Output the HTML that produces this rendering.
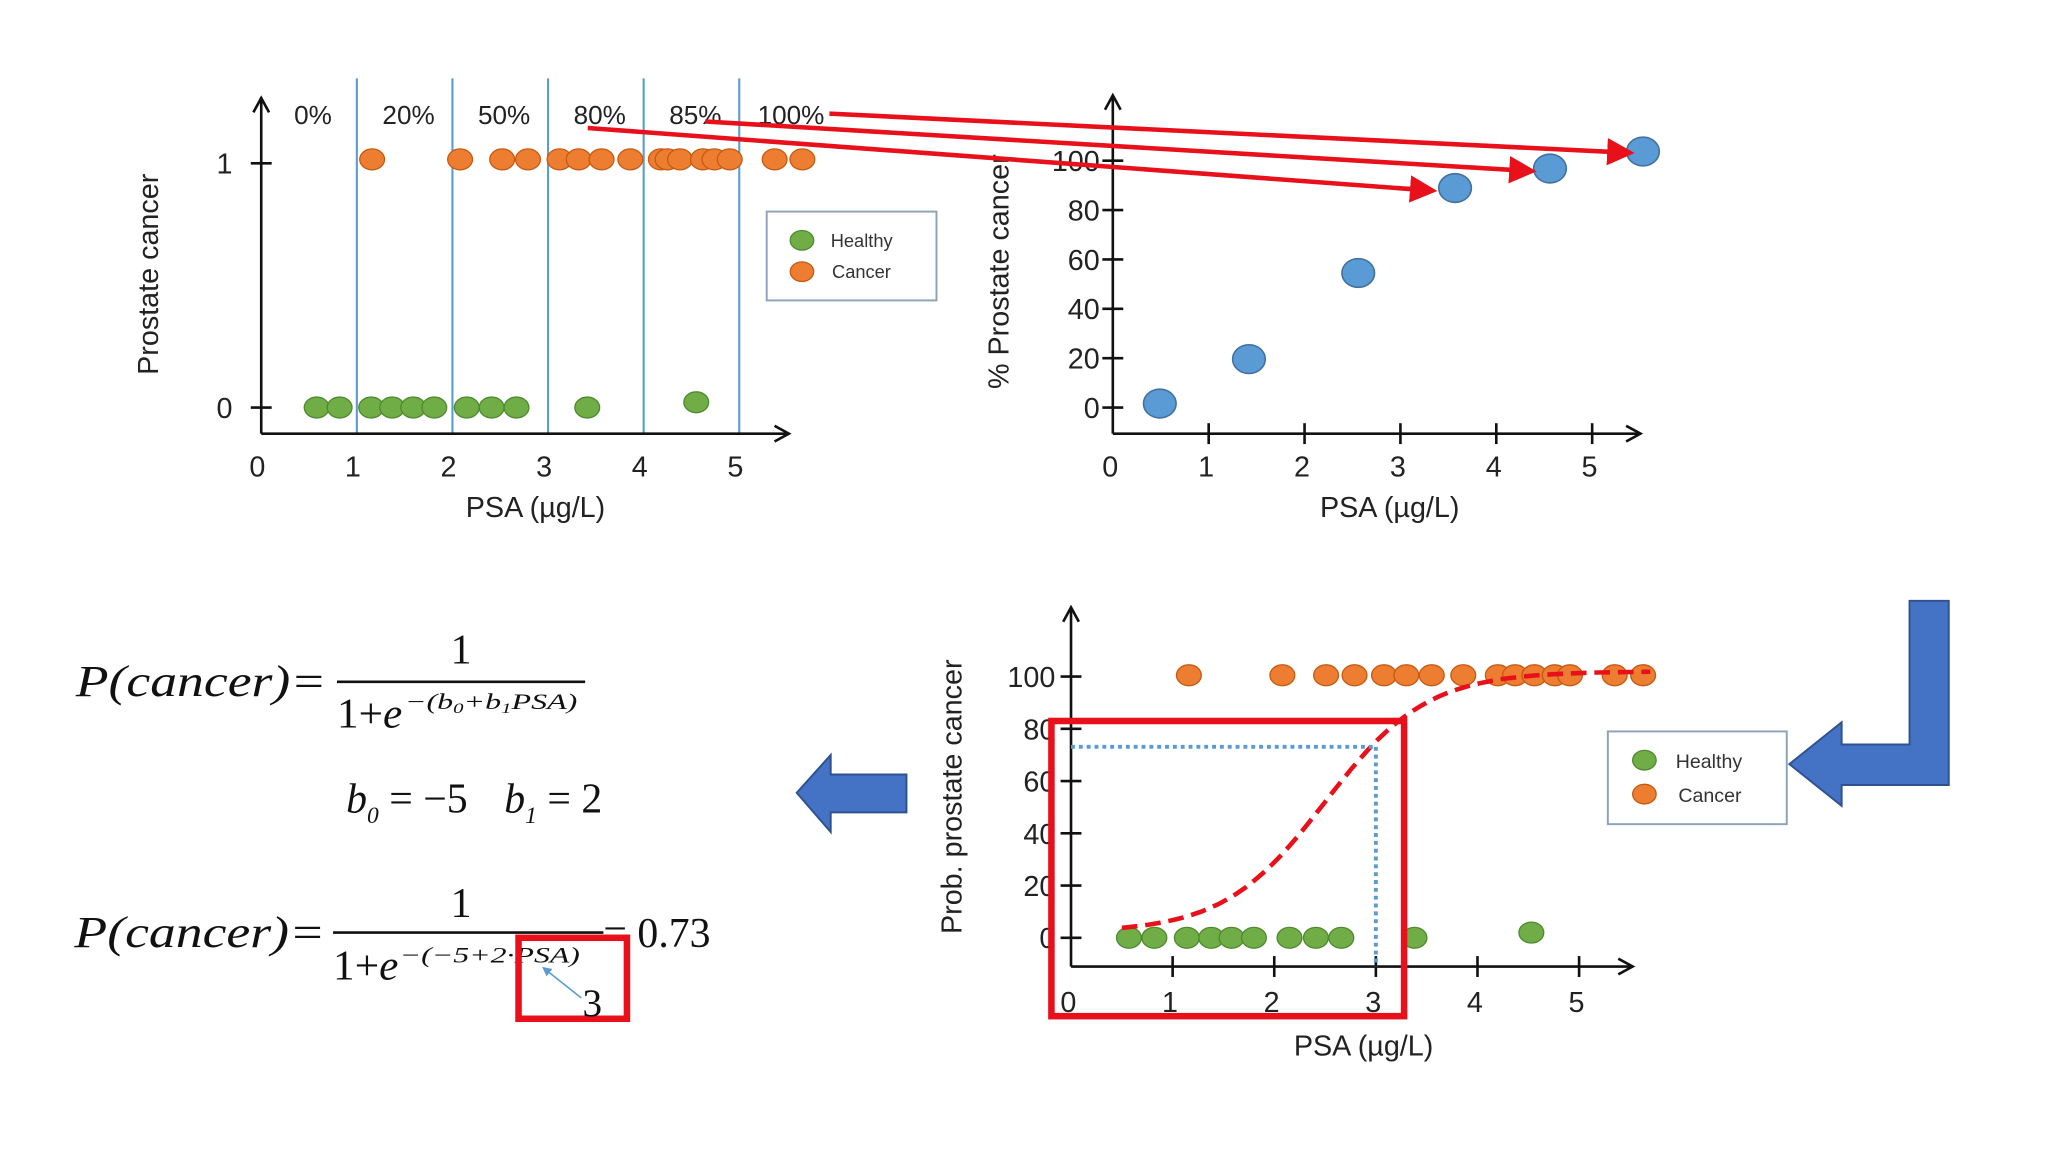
<!DOCTYPE html>
<html><head><meta charset="utf-8">
<style>
html,body{margin:0;padding:0;background:#fff;}
svg{display:block;font-family:"Liberation Sans",sans-serif;}
.serif{font-family:"Liberation Serif",serif;}
</style></head>
<body>
<svg id="root" width="2048" height="1152" viewBox="0 0 1568 882" xmlns="http://www.w3.org/2000/svg">
<defs>
<marker id="redHead" markerWidth="6" markerHeight="6" refX="5" refY="3" orient="auto" markerUnits="strokeWidth"><path d="M0,0 L6,3 L0,6 z" fill="#e8101a"/></marker>
<marker id="blkHead" markerWidth="14" markerHeight="14" refX="12" refY="7" orient="auto" markerUnits="userSpaceOnUse"><path d="M1,1 L12,7 L1,13" fill="none" stroke="#111" stroke-width="2"/></marker>
<marker id="smallBlue" markerWidth="6" markerHeight="6" refX="5" refY="3" orient="auto"><path d="M0,0 L6,3 L0,6 z" fill="#5b9bd5"/></marker>
</defs>
<g id="chart1"></g>
<g id="chart2"></g>
<g id="chart3"></g>
<g id="arrows"></g>
<g id="formulas" class="serif" fill="#111">
  <text x="58" y="533" font-size="34" font-style="italic" textLength="192" lengthAdjust="spacingAndGlyphs">P(cancer)=</text>
  <line x1="258" y1="522" x2="448" y2="522" stroke="#111" stroke-width="2"/>
  <text x="345" y="508" font-size="32">1</text>
  <text x="258" y="557" font-size="32" textLength="50" lengthAdjust="spacingAndGlyphs">1+<tspan font-style="italic">e</tspan></text>
  <text x="310" y="543" font-size="17" font-style="italic" textLength="132" lengthAdjust="spacingAndGlyphs">−(b<tspan font-size="11" dy="3">0</tspan><tspan dy="-3">+b</tspan><tspan font-size="11" dy="3">1</tspan><tspan dy="-3">PSA)</tspan></text>
  <text x="265" y="622" font-size="32" font-style="italic">b<tspan font-size="18" dy="8">0</tspan><tspan dy="-8" font-style="normal"> = −5 </tspan><tspan dx="20">b</tspan><tspan font-size="18" dy="8">1</tspan><tspan dy="-8" font-style="normal"> = 2</tspan></text>
  <text x="57" y="725" font-size="34" font-style="italic" textLength="192" lengthAdjust="spacingAndGlyphs">P(cancer)=</text>
  <line x1="255" y1="714" x2="462" y2="714" stroke="#111" stroke-width="2"/>
  <text x="345" y="702" font-size="32">1</text>
  <text x="255" y="750" font-size="32" textLength="50" lengthAdjust="spacingAndGlyphs">1+<tspan font-style="italic">e</tspan></text>
  <text x="306" y="737" font-size="17" font-style="italic" textLength="138" lengthAdjust="spacingAndGlyphs">−(−5+2·PSA)</text>
  <text x="462" y="725" font-size="32">= 0.73</text>
  <rect x="397" y="718" width="83" height="62" fill="none" stroke="#e8101a" stroke-width="5"/>
  <text x="446" y="778" font-size="30">3</text>
  <line x1="445" y1="764" x2="416" y2="741" stroke="#5b9bd5" stroke-width="1.2" marker-end="url(#smallBlue)"/>
</g>
</svg>
<script>
// ---- data ----
const healthyPSA = [0.58,0.82,1.15,1.37,1.59,1.81,2.15,2.41,2.67,3.41,4.55];
const cancerPSA = [1.16,2.08,2.52,2.79,3.12,3.32,3.56,3.86,4.18,4.25,4.38,4.62,4.74,4.90,5.37,5.66];
const binBounds = [1,2,3,4,5];
const binLabels = ["0%","20%","50%","80%","85%","100%"];
const binCenters = [0.5,1.5,2.5,3.5,4.5,5.5];
const xTicks = [0,1,2,3,4,5];
const pctPSA = [0.49,1.42,2.56,3.57,4.56,5.53];
const pctValues = [1.6,19.6,54.5,88.9,96.8,103.7];
const pctTicks = [0,20,40,60,80,100];
const cancer3PSA = [1.16,2.08,2.51,2.79,3.08,3.30,3.55,3.86,4.20,4.37,4.56,4.76,4.91,5.35,5.63];
const healthy3PSA = [0.57,0.82,1.14,1.38,1.58,1.80,2.15,2.41,2.66,3.38,4.53];
const coefB0 = [-5];
const coefB1 = [2];
const curveRange = [0.5,5.7];
const markerPSA = [3];

const NS="http://www.w3.org/2000/svg";
function mk(parent,tag,attrs,txt){const e=document.createElementNS(NS,tag);for(const k in attrs)e.setAttribute(k,attrs[k]);if(txt!==undefined)e.textContent=txt;parent.appendChild(e);return e;}
const GREEN="#70ad47",GREENS="#4e8a2e",ORANGE="#ed7d31",ORANGES="#c55a11",BLUE="#5b9bd5",BLUES="#41719c";

// ---- chart 1 ----
(function(){
 const g=document.getElementById('chart1');
 const x0=200,ux=73.2,yAx=332;
 const X=v=>x0+v*ux, Y=v=>312-v*187;
 binBounds.forEach(b=>{const l=mk(g,'line',{x1:X(b),y1:60,x2:X(b),y2:yAx,stroke:BLUE,'stroke-width':1.6});
  
  });
 const ya=mk(g,'line',{x1:x0,y1:yAx,x2:x0,y2:75,stroke:'#111','stroke-width':2,'marker-end':'url(#blkHead)'});
 
 
 const xa=mk(g,'line',{x1:x0,y1:yAx,x2:604,y2:yAx,stroke:'#111','stroke-width':2,'marker-end':'url(#blkHead)'});
 
 
 xTicks.forEach(t=>{const tx=mk(g,'text',{x:X(t)-3,y:365,'font-size':22,'text-anchor':'middle',fill:'#222'},String(t));
  
  });
 [0,1].forEach(v=>{mk(g,'line',{x1:192,y1:Y(v),x2:208,y2:Y(v),stroke:'#111','stroke-width':2});
  const tx=mk(g,'text',{x:178,y:Y(v)+8,'font-size':22,'text-anchor':'end',fill:'#222'},String(v));
  
  });
 binLabels.forEach((s,i)=>{const tx=mk(g,'text',{x:X(binCenters[i])+3,y:95,'font-size':20,'text-anchor':'middle',fill:'#222'},s);
  
  });
 cancerPSA.forEach(v=>{const c=mk(g,'ellipse',{cx:X(v),cy:122,rx:9.5,ry:8,fill:ORANGE,stroke:ORANGES,'stroke-width':1});
  
  });
 healthyPSA.forEach((v,i)=>{const c=mk(g,'ellipse',{cx:X(v),cy:i==healthyPSA.length-1?308:312,rx:9.5,ry:8,fill:GREEN,stroke:GREENS,'stroke-width':1});
  
  });
 const xt=mk(g,'text',{x:410,y:396,'font-size':22,'text-anchor':'middle',fill:'#222'},'PSA (µg/L)');
 
 
 const yt=mk(g,'text',{x:0,y:0,'font-size':22,'text-anchor':'middle',fill:'#222',transform:'translate(121,210) rotate(-90)'},'Prostate cancer');
 
 
 const lg=mk(g,'g',{});
 
 
 mk(lg,'rect',{x:587,y:162,width:130,height:68,fill:'#fff',stroke:'#8ea2b8','stroke-width':1.5});
 mk(lg,'ellipse',{cx:614,cy:184,rx:9,ry:7.5,fill:GREEN,stroke:GREENS});
 mk(lg,'text',{x:636,y:189,'font-size':14,fill:'#333'},'Healthy');
 mk(lg,'ellipse',{cx:614,cy:208,rx:9,ry:7.5,fill:ORANGE,stroke:ORANGES});
 mk(lg,'text',{x:637,y:213,'font-size':14,fill:'#333'},'Cancer');
})();

// ---- chart 2 ----
(function(){
 const g=document.getElementById('chart2');
 const x0=852,ux=73.4,yAx=332;
 const X=v=>x0+v*ux, Y=v=>312-v*1.89;
 const ya=mk(g,'line',{x1:x0,y1:yAx,x2:x0,y2:73,stroke:'#111','stroke-width':2,'marker-end':'url(#blkHead)'});
 
 
 const xa=mk(g,'line',{x1:x0,y1:yAx,x2:1256,y2:yAx,stroke:'#111','stroke-width':2,'marker-end':'url(#blkHead)'});
 
 
 xTicks.forEach(t=>{if(t>0)mk(g,'line',{x1:X(t),y1:yAx-8,x2:X(t),y2:yAx+8,stroke:'#111','stroke-width':2});
  const tx=mk(g,'text',{x:X(t)-2,y:365,'font-size':22,'text-anchor':'middle',fill:'#222'},String(t));
  
  });
 pctTicks.forEach(v=>{mk(g,'line',{x1:844,y1:Y(v),x2:860,y2:Y(v),stroke:'#111','stroke-width':2});
  const tx=mk(g,'text',{x:842,y:Y(v)+8,'font-size':22,'text-anchor':'end',fill:'#222'},String(v));
  
  });
 pctPSA.forEach((v,i)=>{const c=mk(g,'ellipse',{cx:X(v),cy:Y(pctValues[i]),rx:12.5,ry:11,fill:BLUE,stroke:BLUES,'stroke-width':1.2});
  
  });
 const xt=mk(g,'text',{x:1064,y:396,'font-size':22,'text-anchor':'middle',fill:'#222'},'PSA (µg/L)');
 
 
 const yt=mk(g,'text',{x:0,y:0,'font-size':22,'text-anchor':'middle',fill:'#222',transform:'translate(772,208) rotate(-90)'},'% Prostate cancer');
 
 
})();

// ---- chart 3 ----
(function(){
 const g=document.getElementById('chart3');
 const x0=820,ux=77.8,yAx=740;
 const X=v=>x0+v*ux, Y=v=>718-v*2.0;
 const ya=mk(g,'line',{x1:x0,y1:yAx,x2:x0,y2:465,stroke:'#111','stroke-width':2,'marker-end':'url(#blkHead)'});
 
 
 const xa=mk(g,'line',{x1:x0,y1:yAx,x2:1250,y2:yAx,stroke:'#111','stroke-width':2,'marker-end':'url(#blkHead)'});
 
 
 xTicks.forEach(t=>{if(t>0)mk(g,'line',{x1:X(t),y1:yAx-8,x2:X(t),y2:yAx+8,stroke:'#111','stroke-width':2});
  const tx=mk(g,'text',{x:X(t)-2,y:775,'font-size':22,'text-anchor':'middle',fill:'#222'},String(t));
  
  });
 pctTicks.forEach(v=>{mk(g,'line',{x1:812,y1:Y(v),x2:828,y2:Y(v),stroke:'#111','stroke-width':2});
  const tx=mk(g,'text',{x:808,y:Y(v)+8,'font-size':22,'text-anchor':'end',fill:'#222'},String(v));
  
  });
 cancer3PSA.forEach(v=>{const c=mk(g,'ellipse',{cx:X(v),cy:517,rx:9.5,ry:8,fill:ORANGE,stroke:ORANGES,'stroke-width':1});
  
  });
 healthy3PSA.forEach((v,i)=>{const c=mk(g,'ellipse',{cx:X(v),cy:i==healthy3PSA.length-1?714:718,rx:9.5,ry:8,fill:GREEN,stroke:GREENS,'stroke-width':1});
  
  });
 let d='';const n=60;
 for(let i=0;i<=n;i++){const x=curveRange[0]+(curveRange[1]-curveRange[0])*i/n;
  const p=100/(1+Math.exp(-(coefB0[0]+coefB1[0]*x)));
  d+=(i?'L':'M')+X(x).toFixed(1)+','+(Y(p)-4).toFixed(1);}
 const cv=mk(g,'path',{d:d,fill:'none',stroke:'#e8101a','stroke-width':3.5,'stroke-dasharray':'12 6'});
 
 
 const mp=100/(1+Math.exp(-(coefB0[0]+coefB1[0]*markerPSA[0])));
 const h=mk(g,'line',{x1:x0,y1:Y(mp),x2:X(markerPSA[0]),y2:Y(mp),stroke:BLUE,'stroke-width':3,'stroke-dasharray':'3 3'});
 
 
 const v=mk(g,'line',{x1:X(markerPSA[0]),y1:Y(mp),x2:X(markerPSA[0]),y2:yAx,stroke:BLUE,'stroke-width':3,'stroke-dasharray':'3 3'});
 
 
 const rb=mk(g,'rect',{x:805,y:552,width:270,height:226,fill:'none',stroke:'#e8101a','stroke-width':5});
 
 
 const xt=mk(g,'text',{x:1044,y:808,'font-size':22,'text-anchor':'middle',fill:'#222'},'PSA (µg/L)');
 
 
 const yt=mk(g,'text',{x:0,y:0,'font-size':22,'text-anchor':'middle',fill:'#222',transform:'translate(736,610) rotate(-90)'},'Prob. prostate cancer');
 
 
 const lg=mk(g,'g',{});
 
 
 mk(lg,'rect',{x:1231,y:560,width:137,height:71,fill:'#fff',stroke:'#8ea2b8','stroke-width':1.5});
 mk(lg,'ellipse',{cx:1259,cy:582,rx:9,ry:7.5,fill:GREEN,stroke:GREENS});
 mk(lg,'text',{x:1283,y:588,'font-size':15,fill:'#333'},'Healthy');
 mk(lg,'ellipse',{cx:1259,cy:608,rx:9,ry:7.5,fill:ORANGE,stroke:ORANGES});
 mk(lg,'text',{x:1285,y:614,'font-size':15,fill:'#333'},'Cancer');
})();

// ---- annotation arrows ----
(function(){
 const g=document.getElementById('arrows');
 [[450,98,1097,146],[540,93,1173,131],[635,87,1248,117]].forEach(a=>{
  const l=mk(g,'line',{x1:a[0],y1:a[1],x2:a[2],y2:a[3],stroke:'#e8101a','stroke-width':3.5,'marker-end':'url(#redHead)'});
  
  });
 const la=mk(g,'polygon',{points:'610,607 636,578 636,593 694,593 694,622 636,622 636,637',fill:'#4472c4',stroke:'#2f528f','stroke-width':1.5});
 
 
 const ba=mk(g,'polygon',{points:'1462,460 1492,460 1492,601 1410,601 1410,617 1370,585 1410,553 1410,570 1462,570',fill:'#4472c4',stroke:'#2f528f','stroke-width':1.5});
 
 
})();
</script>
</body></html>
